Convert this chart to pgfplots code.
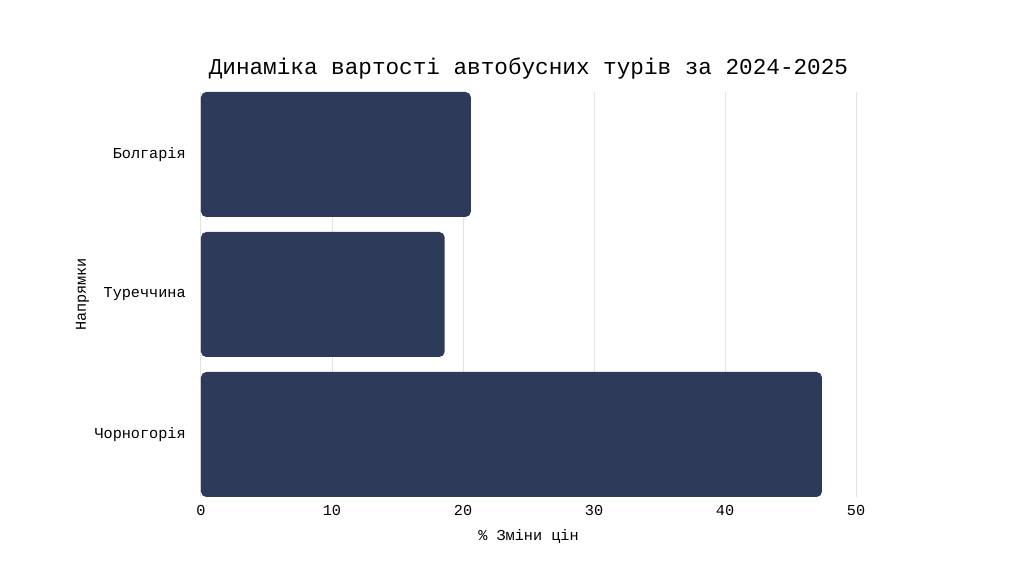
\documentclass[border=0pt]{standalone}
\usepackage{pgfplots}
\pgfplotsset{compat=1.18}
\usepackage{fontspec}
\setmainfont{Liberation Mono}
\definecolor{barc}{HTML}{2E3A59}
\definecolor{gridc}{HTML}{E2E2E2}
\begin{document}
\begin{tikzpicture}
\fill[white] (-150.75pt,-57pt) rectangle (617.25pt,372.75pt);
\useasboundingbox (-150.75pt,-57pt) rectangle (617.25pt,372.75pt);
\begin{axis}[
  at={(0,0)}, anchor=south west,
  scale only axis,
  width=491.25pt, height=303.75pt,
  xbar, bar width=93.75pt,
  xmin=0, xmax=50,
  ymin=-0.4464, ymax=2.4464,
  xtick={0,10,20,30,40,50},
  ytick={0,1,2},
  yticklabels={Чорногорія,Туреччина,Болгарія},
  major tick length=0pt,
  axis line style={draw=none},
  xmajorgrids, major grid style={gridc, line width=0.75pt},
  /pgf/number format/assume math mode=true,
  tick label style={font=\fontsize{11.4}{13}\selectfont, inner sep=0pt},
  yticklabel style={xshift=-11.25pt},
  xticklabel style={yshift=-6pt},
  xlabel={\% Зміни цін},
  ylabel={Напрямки},
  label style={font=\fontsize{11.4}{13}\selectfont, inner sep=0pt},
  xlabel style={at={(axis description cs:0.5,-0.1062)}, anchor=base},
  ylabel style={at={(axis description cs:-0.1756,0.5)}, anchor=base},
  title={Динаміка вартості автобусних турів за 2024-2025},
  title style={font=\fontsize{17}{20}\selectfont, inner sep=0pt, at={(axis description cs:0.5,1.024)}, anchor=base},
  clip=true,
]
\addplot[fill=barc, draw=none, rounded corners=4pt] coordinates {(47.4,0) (18.6,1) (20.6,2)};
\end{axis}
\end{tikzpicture}
\end{document}
